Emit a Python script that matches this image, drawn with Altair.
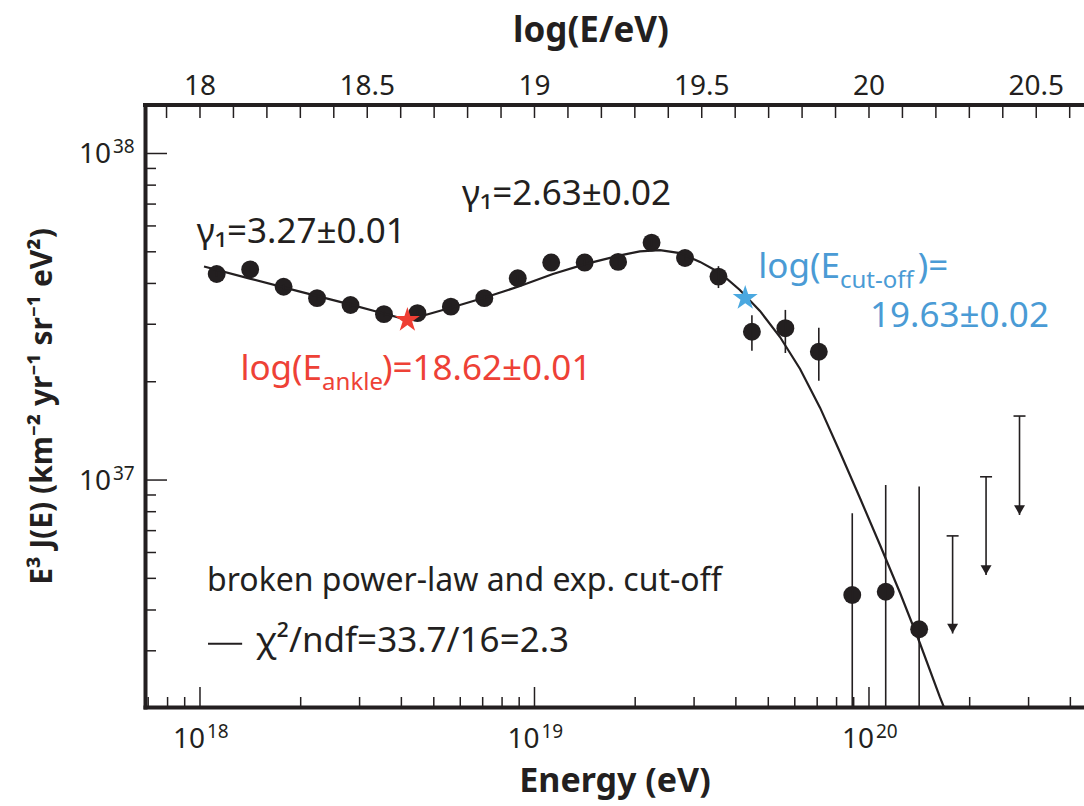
import math
import altair as alt
import pandas as pd

FONT = "Noto Sans"
INK = "#231F20"
RED = "#EE4136"
BLUE = "#4A9BD5"

# Spectrum bins: log10(E/eV) and log10 of E^3 J(E) with error bar ends
log_energy = [18.05, 18.15, 18.25, 18.35, 18.45, 18.55, 18.65, 18.75, 18.85, 18.95,
              19.05, 19.15, 19.25, 19.35, 19.45, 19.55, 19.65, 19.75, 19.85, 19.95,
              20.05, 20.15]
log_flux = [37.631, 37.645, 37.592, 37.557, 37.536, 37.508, 37.511, 37.531, 37.557, 37.618,
            37.666, 37.666, 37.668, 37.727, 37.680, 37.623, 37.454, 37.465, 37.393, 36.648,
            36.658, 36.543]
flux_upper = [37.640, 37.655, 37.600, 37.565, 37.545, 37.517, 37.520, 37.540, 37.566, 37.628,
              37.676, 37.676, 37.679, 37.738, 37.692, 37.655, 37.505, 37.521, 37.466, 36.898,
              36.985, 36.980]
flux_lower = [37.622, 37.636, 37.584, 37.549, 37.527, 37.499, 37.502, 37.522, 37.548, 37.608,
              37.656, 37.656, 37.657, 37.716, 37.668, 37.588, 37.396, 37.389, 37.304, 36.000,
              36.000, 36.000]

# Upper limits (bar top and arrow tip)
limit_energy = [20.25, 20.35, 20.45]
limit_top = [36.829, 37.010, 37.196]
limit_tip = [36.530, 36.709, 36.893]

# Broken power-law with exponential cut-off fit
fit_energy = [18.012, 18.149, 18.299, 18.448, 18.538, 18.622, 18.658, 18.747, 18.852, 18.957,
              19.055, 19.154, 19.256, 19.315, 19.375, 19.435, 19.495, 19.555, 19.614, 19.674,
              19.734, 19.794, 19.854, 19.913, 19.973, 20.033, 20.093, 20.152, 20.212, 20.242]
fit_flux = [37.654, 37.617, 37.577, 37.538, 37.513, 37.490, 37.501, 37.527, 37.559, 37.594,
            37.631, 37.662, 37.688, 37.700, 37.704, 37.695, 37.668, 37.634, 37.582, 37.518,
            37.438, 37.340, 37.221, 37.086, 36.945, 36.801, 36.654, 36.501, 36.335, 36.259]

# Ankle and cut-off markers
ankle = (18.62, 37.490)
cutoff = (19.63, 37.557)

# Axis ranges and ticks
X_DOMAIN = [17.8356, 20.6428]
Y_DOMAIN = [36.305, 38.1485]
top_values = [18, 18.5, 19, 19.5, 20, 20.5]
top_labels = ["18", "18.5", "19", "19.5", "20", "20.5"]
top_ticks = [round(17.9 + 0.1 * i, 1) for i in range(28)]
x_major = [18, 19, 20]
x_exponents = ["18", "19", "20"]
x_minor = [n + math.log10(k) for n in (17, 18, 19, 20) for k in range(2, 10)
           if X_DOMAIN[0] < n + math.log10(k) < X_DOMAIN[1]]
y_major = [37, 38]
y_exponents = ["37", "38"]
y_minor = [n + math.log10(k) for n in (36, 37, 38) for k in range(2, 10)
           if Y_DOMAIN[0] < n + math.log10(k) < Y_DOMAIN[1]]

W, H = 939, 602

# Five-pointed star outline in unit coordinates
STAR = ("M0,-1L0.2245,-0.309L0.951,-0.309L0.363,0.118L0.588,0.809L0,0.382"
        "L-0.588,0.809L-0.363,0.118L-0.951,-0.309L-0.2245,-0.309Z")

xs = alt.Scale(domain=X_DOMAIN, nice=False, zero=False)
ys = alt.Scale(domain=Y_DOMAIN, nice=False, zero=False)

frame = dict(domain=True, domainWidth=4, domainColor=INK, domainCap="square",
             ticks=False, labels=False, grid=False, minExtent=0,
             titleFont=FONT, titleColor=INK, titleFontWeight="bold")

bottom_axis = alt.Axis(orient="bottom", title="Energy (eV)",
                       titleFontSize=34, titlePadding=57, **frame)
left_axis = alt.Axis(orient="left", title="E³ J(E) (km⁻² yr⁻¹ sr⁻¹ eV²)",
                     titleFontSize=30, titlePadding=88, **frame)


def X(field):
    return alt.X(field, type="quantitative", scale=xs, axis=bottom_axis)


def Y(field):
    return alt.Y(field, type="quantitative", scale=ys, axis=left_axis)


spec = pd.DataFrame({"logE": log_energy, "logF": log_flux,
                     "hi": flux_upper, "lo": flux_lower})
limits = pd.DataFrame({"logE": limit_energy, "top": limit_top, "tip": limit_tip})
fit = pd.DataFrame({"logE": fit_energy, "logF": fit_flux})

# Frame: top edge, inward-pointing ticks, top scale in log(E/eV)
top_edge = alt.Chart().mark_rule(color=INK, strokeWidth=4, strokeCap="square").encode(
    x=alt.value(0), x2=alt.value(W), y=alt.value(0))
top_tick_layer = alt.Chart(pd.DataFrame({"t": top_ticks})).mark_rule(
    color=INK, strokeWidth=1.5).encode(x=X("t"), y=alt.value(0), y2=alt.value(13))
top_label_layer = alt.Chart(pd.DataFrame({"t": top_values, "label": top_labels})).mark_text(
    font=FONT, fontSize=28, color=INK, baseline="alphabetic", align="center").encode(
    x=X("t"), y=alt.value(-10), text="label:N")
top_title = alt.Chart(pd.DataFrame({"label": ["log(E/eV)"]})).mark_text(
    font=FONT, fontSize=35, fontWeight="bold", color=INK, baseline="alphabetic",
    align="center").encode(x=alt.value(446), y=alt.value(-63), text="label:N")

bottom_major_layer = alt.Chart(pd.DataFrame({"t": x_major})).mark_rule(
    color=INK, strokeWidth=1.5).encode(x=X("t"), y=alt.value(H), y2=alt.value(H - 20))
bottom_minor_layer = alt.Chart(pd.DataFrame({"t": x_minor})).mark_rule(
    color=INK, strokeWidth=1.5).encode(x=X("t"), y=alt.value(H), y2=alt.value(H - 10))
left_major_layer = alt.Chart(pd.DataFrame({"t": y_major})).mark_rule(
    color=INK, strokeWidth=1.5).encode(y=Y("t"), x=alt.value(0), x2=alt.value(22))
left_minor_layer = alt.Chart(pd.DataFrame({"t": y_minor})).mark_rule(
    color=INK, strokeWidth=1.5).encode(y=Y("t"), x=alt.value(0), x2=alt.value(11))

# Power-of-ten tick labels: base and raised exponent
x_pow = pd.DataFrame({"t": x_major, "exp": x_exponents})
x_base_labels = alt.Chart(x_pow).mark_text(
    font=FONT, fontSize=28, color=INK, align="right", baseline="alphabetic", dx=5).encode(
    x=X("t"), y=alt.value(H + 41), text=alt.value("10"))
x_exp_labels = alt.Chart(x_pow).mark_text(
    font=FONT, fontSize=19, color=INK, align="left", baseline="alphabetic", dx=7).encode(
    x=X("t"), y=alt.value(H + 31), text="exp:N")
y_pow = pd.DataFrame({"t": y_major, "exp": y_exponents})
y_base_labels = alt.Chart(y_pow).mark_text(
    font=FONT, fontSize=28, color=INK, align="right", baseline="alphabetic", dy=10).encode(
    y=Y("t"), x=alt.value(-34), text=alt.value("10"))
y_exp_labels = alt.Chart(y_pow).mark_text(
    font=FONT, fontSize=19, color=INK, align="left", baseline="alphabetic", dy=0).encode(
    y=Y("t"), x=alt.value(-32), text="exp:N")

fit_layer = alt.Chart(fit).mark_line(color=INK, strokeWidth=2.2, clip=True).encode(
    x=X("logE"), y=Y("logF"), order="logE:Q")
errors = alt.Chart(spec).mark_rule(color=INK, strokeWidth=1.6, clip=True).encode(
    x=X("logE"), y=Y("lo"), y2="hi")
points = alt.Chart(spec).mark_circle(size=320, color=INK, opacity=1).encode(
    x=X("logE"), y=Y("logF"))

limit_bars = alt.Chart(limits).mark_rule(color=INK, strokeWidth=1.6).encode(
    x=X("logE"), y=Y("top"), y2="tip")
limit_caps = alt.Chart(limits).mark_rule(color=INK, strokeWidth=1.6, xOffset=-6, x2Offset=6).encode(
    x=X("logE"), x2="logE", y=Y("top"))
limit_heads = alt.Chart(limits).mark_point(shape="triangle-down", filled=True, size=120,
                                           color=INK, opacity=1, yOffset=-5).encode(
    x=X("logE"), y=Y("tip"))

ankle_star = alt.Chart(pd.DataFrame({"logE": [ankle[0]], "logF": [ankle[1]]})).mark_point(
    shape=STAR, filled=True, size=690, opacity=1, color="#EF3E33", strokeWidth=0).encode(
    x=X("logE"), y=Y("logF"))
cutoff_star = alt.Chart(pd.DataFrame({"logE": [cutoff[0]], "logF": [cutoff[1]]})).mark_point(
    shape=STAR, filled=True, size=690, opacity=1, color="#4AA8E0", strokeWidth=0).encode(
    x=X("logE"), y=Y("logF"))


def text_layer(rows, size, color, align="left", dy=0):
    df = pd.DataFrame(rows, columns=["x", "y", "label"])
    return alt.Chart(df).mark_text(align=align, baseline="alphabetic", font=FONT,
                                   fontSize=size, color=color, dy=dy).encode(
        x=X("x"), y=Y("y"), text="label:N")


gamma_text = text_layer([(17.990, 37.726, "γ₁=3.27±0.01"),
                         (18.783, 37.842, "γ₁=2.63±0.02")], 35, INK)
ankle_a = text_layer([(18.365, 37.306, "log(E")], 35, RED, align="right")
ankle_b = text_layer([(18.365, 37.306, "ankle")], 24, RED, dy=10)
ankle_c = text_layer([(18.544, 37.306, ")=18.62±0.01")], 35, RED)
cut_a = text_layer([(19.913, 37.619, "log(E")], 35, BLUE, align="right")
cut_b = text_layer([(19.913, 37.619, "cut-off")], 24, BLUE, dy=10)
cut_c = text_layer([(20.146, 37.619, ")=")], 35, BLUE)
cut_d = text_layer([(20.003, 37.469, "19.63±0.02")], 35, BLUE)
legend_title = text_layer([(18.021, 36.660, "broken power-law and exp. cut-off")], 32, INK)
legend_fit = text_layer([(18.167, 36.473, "χ²/ndf=33.7/16=2.3")], 35, INK)
legend_line = alt.Chart(pd.DataFrame({"x": [18.024], "x2": [18.126], "y": [36.499]})).mark_rule(
    color=INK, strokeWidth=2).encode(x=X("x"), x2="x2", y=Y("y"))

chart = alt.layer(
    points, top_edge, top_tick_layer, top_label_layer, top_title,
    bottom_major_layer, bottom_minor_layer, left_major_layer, left_minor_layer,
    x_base_labels, x_exp_labels, y_base_labels, y_exp_labels,
    fit_layer, errors, limit_bars, limit_caps, limit_heads, ankle_star, cutoff_star,
    gamma_text, ankle_a, ankle_b, ankle_c, cut_a, cut_b, cut_c, cut_d,
    legend_title, legend_fit, legend_line,
).properties(
    width=W, height=H,
    autosize=alt.AutoSizeParams(type="none"),
    padding={"left": 145, "top": 105, "right": 0, "bottom": 99},
    background="white",
).configure_view(stroke=None)

chart.save("out.html", embed_options={"renderer": "svg", "actions": False})
